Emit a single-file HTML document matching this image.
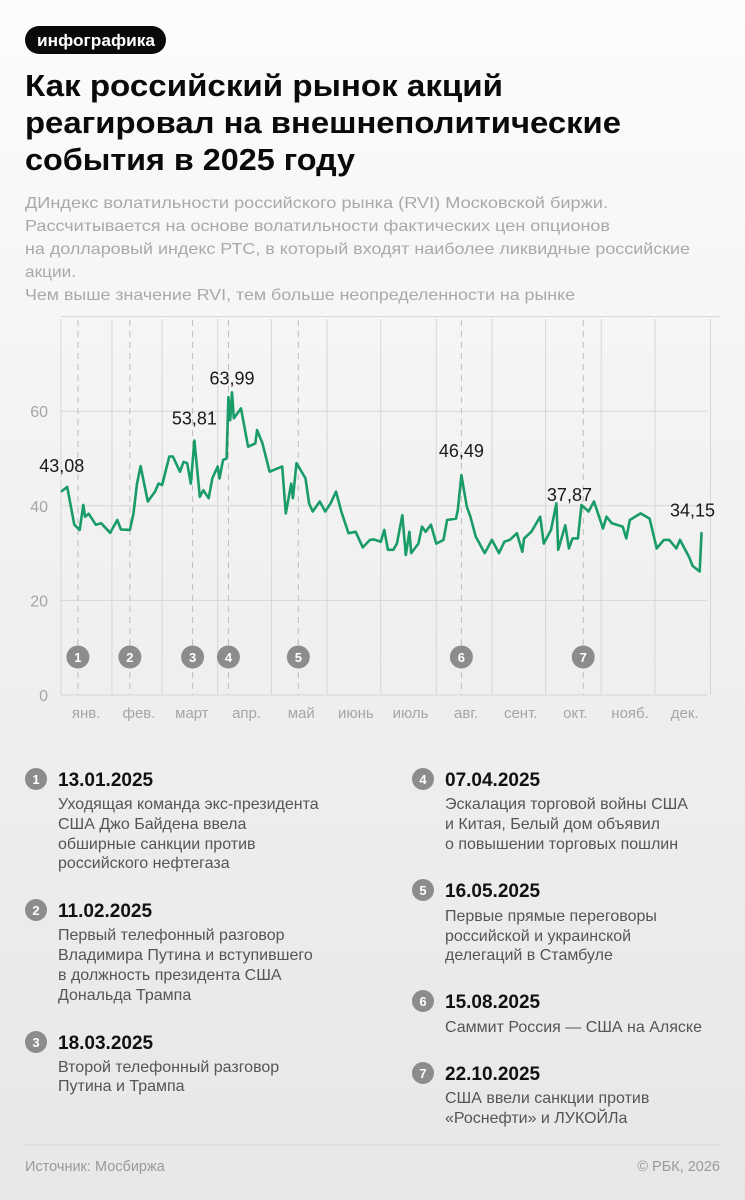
<!DOCTYPE html>
<html><head><meta charset="utf-8">
<style>
html,body{margin:0;padding:0;width:745px;height:1200px;overflow:hidden;}
body{background:linear-gradient(#fcfcfc,#f2f2f2 40%,#e7e7e7);font-family:"Liberation Sans","Noto Sans CJK SC",sans-serif;}
svg{display:block}
.t{font-family:"Liberation Sans","Noto Sans CJK SC",sans-serif}
</style></head>
<body>
<svg id="page" width="745" height="1200" viewBox="0 0 745 1200" xmlns="http://www.w3.org/2000/svg">
  <g>
    <rect x="25" y="26" width="141" height="28" rx="14" fill="#0a0a0a"/>
    <text class="t" x="37" y="46" font-size="17" font-weight="bold" fill="#fff" textLength="118" lengthAdjust="spacingAndGlyphs">инфографика</text>
    <g font-size="31" font-weight="bold" fill="#0a0a0a" class="t">
      <text x="25" y="96" textLength="478" lengthAdjust="spacingAndGlyphs">Как российский рынок акций</text>
      <text x="25" y="133" textLength="596" lengthAdjust="spacingAndGlyphs">реагировал на внешнеполитические</text>
      <text x="25" y="170" textLength="330" lengthAdjust="spacingAndGlyphs">события в 2025 году</text>
    </g>
    <g font-size="16" fill="#a9a9a9" class="t">
      <text x="25" y="208" textLength="583" lengthAdjust="spacingAndGlyphs">ДИндекс волатильности российского рынка (RVI) Московской биржи.</text>
      <text x="25" y="231" textLength="585" lengthAdjust="spacingAndGlyphs">Рассчитывается на основе волатильности фактических цен опционов</text>
      <text x="25" y="254" textLength="665" lengthAdjust="spacingAndGlyphs">на долларовый индекс РТС, в который входят наиболее ликвидные российские</text>
      <text x="25" y="277" textLength="51" lengthAdjust="spacingAndGlyphs">акции.</text>
      <text x="25" y="300" textLength="550" lengthAdjust="spacingAndGlyphs">Чем выше значение RVI, тем больше неопределенности на рынке</text>
    </g>
  </g>
  <g id="chart"></g>

  <g class="t">
    <g>
      <circle cx="36" cy="779" r="11" fill="#8c8c8c"/><text x="36" y="784" font-size="13" font-weight="bold" fill="#fff" text-anchor="middle">1</text>
      <text x="58" y="786" font-size="19" font-weight="bold" fill="#111">13.01.2025</text>
      <g font-size="16" fill="#555"><text x="58" y="809">Уходящая команда экс-президента</text><text x="58" y="829">США Джо Байдена ввела</text><text x="58" y="849">обширные санкции против</text><text x="58" y="868">российского нефтегаза</text></g>
    </g>
    <g>
      <circle cx="36" cy="910" r="11" fill="#8c8c8c"/><text x="36" y="915" font-size="13" font-weight="bold" fill="#fff" text-anchor="middle">2</text>
      <text x="58" y="917" font-size="19" font-weight="bold" fill="#111">11.02.2025</text>
      <g font-size="16" fill="#555"><text x="58" y="940">Первый телефонный разговор</text><text x="58" y="960">Владимира Путина и вступившего</text><text x="58" y="980">в должность президента США</text><text x="58" y="1000">Дональда Трампа</text></g>
    </g>
    <g>
      <circle cx="36" cy="1042" r="11" fill="#8c8c8c"/><text x="36" y="1047" font-size="13" font-weight="bold" fill="#fff" text-anchor="middle">3</text>
      <text x="58" y="1049" font-size="19" font-weight="bold" fill="#111">18.03.2025</text>
      <g font-size="16" fill="#555"><text x="58" y="1072">Второй телефонный разговор</text><text x="58" y="1091">Путина и Трампа</text></g>
    </g>
    <g>
      <circle cx="423" cy="779" r="11" fill="#8c8c8c"/><text x="423" y="784" font-size="13" font-weight="bold" fill="#fff" text-anchor="middle">4</text>
      <text x="445" y="786" font-size="19" font-weight="bold" fill="#111">07.04.2025</text>
      <g font-size="16" fill="#555"><text x="445" y="809">Эскалация торговой войны США</text><text x="445" y="829">и Китая, Белый дом объявил</text><text x="445" y="849">о повышении торговых пошлин</text></g>
    </g>
    <g>
      <circle cx="423" cy="890" r="11" fill="#8c8c8c"/><text x="423" y="895" font-size="13" font-weight="bold" fill="#fff" text-anchor="middle">5</text>
      <text x="445" y="897" font-size="19" font-weight="bold" fill="#111">16.05.2025</text>
      <g font-size="16" fill="#555"><text x="445" y="921">Первые прямые переговоры</text><text x="445" y="941">российской и украинской</text><text x="445" y="960">делегаций в Стамбуле</text></g>
    </g>
    <g>
      <circle cx="423" cy="1001" r="11" fill="#8c8c8c"/><text x="423" y="1006" font-size="13" font-weight="bold" fill="#fff" text-anchor="middle">6</text>
      <text x="445" y="1008" font-size="19" font-weight="bold" fill="#111">15.08.2025</text>
      <g font-size="16" fill="#555"><text x="445" y="1032">Саммит Россия — США на Аляске</text></g>
    </g>
    <g>
      <circle cx="423" cy="1073" r="11" fill="#8c8c8c"/><text x="423" y="1078" font-size="13" font-weight="bold" fill="#fff" text-anchor="middle">7</text>
      <text x="445" y="1080" font-size="19" font-weight="bold" fill="#111">22.10.2025</text>
      <g font-size="16" fill="#555"><text x="445" y="1103">США ввели санкции против</text><text x="445" y="1123">«Роснефти» и ЛУКОЙЛа</text></g>
    </g>
  </g>
  <line x1="25" y1="1145" x2="720" y2="1145" stroke="#d4d4d4" stroke-width="1"/>
  <text class="t" x="25" y="1171" font-size="14.5" fill="#9a9a9a">Источник: Мосбиржа</text>
  <text class="t" x="720" y="1171" font-size="14.5" fill="#9a9a9a" text-anchor="end">© РБК, 2026</text>
</svg>
<script>
const days = [3,6,10,13,15,16,18,22,25,30,34,36,41,43,45,47,51,55,57,59,63,65,69,71,73,75,77,80,82,85,87,90,91,93,95,96,97,98,99,103,107,111,112,115,119,126,128,131,132,134,139,141,143,147,150,153,156,159,163,167,171,175,177,181,183,185,188,190,193,195,197,198,202,204,206,209,212,216,218,223,224,226,229,231,234,239,243,247,250,253,257,260,261,265,270,272,276,279,280,284,286,288,291,293,297,300,305,307,310,316,318,320,326,331,335,339,342,346,348,353,355,359,360];
const values = [43.1,44,36,34.9,40.2,37.7,38.3,36,36.3,34.3,37,35,34.9,38.4,44.7,48.4,40.9,43,44.7,44.4,50.4,50.4,47.2,49.3,49,44.7,53.8,41.9,43.3,41.6,45.8,48.3,45.8,49.7,50,63,58.1,64,58.5,60.6,52.5,53.2,56,53.2,47.2,48.3,38.4,44.7,41.6,49,45.8,40.5,38.8,40.9,38.8,40.5,43,38.8,34.2,34.5,31.2,32.8,32.9,32.4,34.9,30.7,30.7,32,38,29.6,34.5,30,32,35.6,34.5,36,32,32.8,37,37.3,39.1,46.5,39.8,37.7,33.5,30,32.8,30,32.4,32.8,34.2,30.3,33.1,34.5,37.7,32,34.9,40.5,30.7,35.9,31,33.1,33.1,40.2,38.8,40.9,35.2,37.7,36.3,35.6,33.1,37,38.4,37.3,31,32.8,32.8,31,32.8,29.2,27.3,26.1,34.2];
const monthNames = ["янв.","фев.","март","апр.","май","июнь","июль","авг.","сент.","окт.","нояб.","дек."];
const monthStarts = [0,31,59,90,120,151,181,212,243,273,304,334,365];
const yTicks = [0,20,40,60];
const eventDays = [12,41,76,96,135,226,294];
const eventNums = ["1","2","3","4","5","6","7"];
const annDays = [3,77,98,226,293,360];
const annValues = [43.08,53.81,63.99,46.49,37.87,34.15];
const annLabels = ["43,08","53,81","63,99","46,49","37,87","34,15"];

const NS="http://www.w3.org/2000/svg";
const chart=document.getElementById('chart');
const X0=56.4, XK=1.792, Y0=695, YK=4.73;
const xs=d=>X0+d*XK;
const ys=v=>Y0-v*YK;
const annOffset=[[0,-19],[0,-16],[0,-8],[0,-18],[-12,-15],[-9,-17]];
function mk(tag,attrs){const e=document.createElementNS(NS,tag);for(const k in attrs)e.setAttribute(k,attrs[k]);chart.appendChild(e);return e;}

// horizontal gridlines
yTicks.concat([80]).forEach(v=>{
  const l=mk('line',{x1:xs(monthStarts[0])+4.6,x2:v===80?720:707,y1:ys(v),y2:ys(v),stroke:'#d6d6d6','stroke-width':1});
  
  
});
yTicks.forEach(v=>{
  const t=mk('text',{x:48,y:ys(v)+6,'font-size':16,fill:'#a5a5a5','text-anchor':'end',class:'t'});
  t.textContent=v;
  
  
});
// month gridlines + labels
monthStarts.forEach((d,i)=>{
  const x=i===0?61:xs(d);
  const l=mk('line',{x1:x,x2:x,y1:319,y2:695,stroke:'#d6d6d6','stroke-width':1});
  
  
});
monthNames.forEach((m,i)=>{
  const t=mk('text',{x:xs((monthStarts[i]+monthStarts[i+1])/2)+2,y:718,'font-size':15,fill:'#a5a5a5','text-anchor':'middle',class:'t'});
  t.textContent=m;
  
  
});
// event markers
eventDays.forEach((d,i)=>{
  const l=mk('line',{x1:xs(d),x2:xs(d),y1:320,y2:695,stroke:'#bdbdbd','stroke-width':1,'stroke-dasharray':'6,5'});
  
  
  const c=mk('circle',{cx:xs(d),cy:657,r:11.5,fill:'#8c8c8c'});
  
  
  const t=mk('text',{x:xs(d),y:662,'font-size':13,'font-weight':'bold',fill:'#fff','text-anchor':'middle',class:'t'});
  t.textContent=eventNums[i];
  
  
});
// series line
const pts=days.map((d,i)=>xs(d).toFixed(1)+','+ys(values[i]).toFixed(1)).join(' ');
const pl=mk('polyline',{points:pts,fill:'none',stroke:'#1a9c68','stroke-width':2.6,'stroke-linejoin':'round','stroke-linecap':'round'});


// annotations
annDays.forEach((d,i)=>{
  const t=mk('text',{x:xs(d)+annOffset[i][0],y:ys(annValues[i])+annOffset[i][1],'font-size':18,fill:'#1a1a1a','text-anchor':'middle',class:'t'});
  t.textContent=annLabels[i];
  
  
});
</script>
</body></html>
